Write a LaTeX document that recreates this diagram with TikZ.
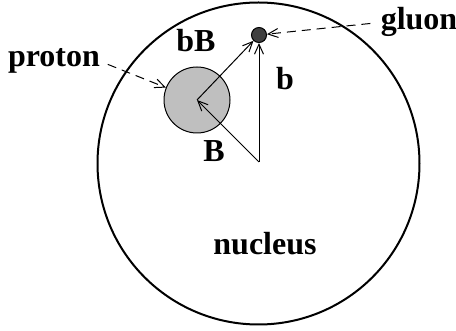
\documentclass[tikz,border=0pt]{standalone}
\usepackage{fontspec}
\setmainfont{Liberation Serif}
\usetikzlibrary{arrows.meta}

\begin{document}
\begin{tikzpicture}[x=0.5pt,y=-0.5pt,
  lbl/.style={font=\fontsize{16}{19}\selectfont\bfseries,anchor=base,inner sep=0pt},
  vec/.style={->,>={Straight Barb[length=5pt,width=4.5pt]},line width=0.5pt},
  ptr/.style={vec,dash pattern=on 4.5pt off 3pt}]
  \useasboundingbox (0,0) rectangle (456,331);
  % nucleus, proton and gluon
  \node[circle,draw,line width=1pt,minimum size=161pt,inner sep=0pt] (nucleus) at (258.5,163.5) {};
  \coordinate (o) at (259,162);
  \node[circle,draw,line width=0.5pt,fill=black!25,minimum size=33pt,inner sep=0pt] (proton) at (197,100) {};
  \node[circle,draw,line width=0.5pt,fill=black!75,minimum size=7.5pt,inner sep=0pt] (gluon) at (259,35) {};
  % vectors
  \draw[vec] (o) -- (proton.center);
  \draw[vec] (proton.center) -- (gluon);
  \draw[vec] (o) -- (gluon);
  % labels
  \node[lbl] (bBlbl) at (196,52) {bB};
  \node[lbl] (blbl) at (285,90) {b};
  \node[lbl] (Blbl) at (214,162) {B};
  \node[lbl] (nuclbl) at (265,255) {nucleus};
  \node[lbl] (plbl) at (54,67) {proton};
  \node[lbl] (glbl) at (419,30) {gluon};
  \draw[ptr,shorten <=4pt] (plbl.east) -- (proton);
  \draw[ptr,shorten <=5pt] (glbl.west) -- (gluon);
\end{tikzpicture}
\end{document}
